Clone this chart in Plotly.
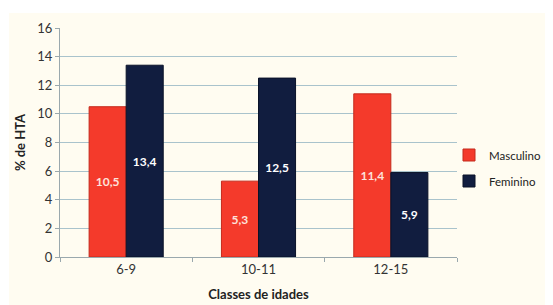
import plotly.graph_objects as go

categories = ["6-9", "10-11", "12-15"]
masculino = [10.5, 5.3, 11.4]
feminino = [13.4, 12.5, 5.9]
masc_labels = ["<b>10,5</b>", "<b>5,3</b>", "<b>11,4</b>"]
fem_labels = ["<b>13,4</b>", "<b>12,5</b>", "<b>5,9</b>"]
y_ticks = [0, 2, 4, 6, 8, 10, 12, 14, 16]

FONT = "Lato"

fig = go.Figure()
fig.add_trace(go.Bar(
    name="Masculino", x=categories, y=masculino, text=masc_labels,
    legendgroup="m",
    textposition="inside", insidetextanchor="middle",
    textfont=dict(color="#fde2dc", size=12, family=FONT),
    marker=dict(color="#f43a2b", line=dict(color="#c42a1c", width=1)),
))
fig.add_trace(go.Bar(
    name="Feminino", x=categories, y=feminino, text=fem_labels,
    legendgroup="f",
    textposition="inside", insidetextanchor="middle",
    textfont=dict(color="#ffffff", size=12, family=FONT),
    marker=dict(color="#111d3f", line=dict(color="#0a1228", width=1)),
))

OFF = 8  # page body margin
W, H = 553 - OFF, 305 - OFF
L, R, T, B = 60 - OFF, 96, 28 - OFF, 48
pw, ph = W - L - R, H - T - B

fig.update_layout(
    width=W, height=H,
    margin=dict(l=L, r=R, t=T, b=B, autoexpand=False),
    paper_bgcolor="#ffffff",
    plot_bgcolor="rgba(0,0,0,0)",
    barmode="group", bargap=0.44, bargroupgap=0,
    font=dict(family=FONT, color="#333333", size=13),
    uniformtext=dict(mode="show", minsize=11),
    legend=dict(xref="container", yref="container", x=441 / W, y=(H - 160) / H,
                yanchor="middle", xanchor="left",
                font=dict(size=11.5, color="#222222", family=FONT), bgcolor="rgba(0,0,0,0)",
                itemwidth=30, traceorder="grouped", tracegroupgap=7),
    shapes=[dict(type="rect", xref="paper", yref="paper", layer="below",
                 x0=(1 - L) / pw, x1=(W - L + 5) / pw,
                 y0=-(B + 5) / ph, y1=(ph + T - 5) / ph,
                 fillcolor="#fffcf1", line=dict(width=0))],
)
fig.update_yaxes(range=[0, 16], tickvals=y_ticks, showgrid=True, gridcolor="#a9c3cc",
                 gridwidth=1, showline=True, linecolor="#9aa8ad", ticks="outside",
                 ticklen=4, tickcolor="#9aa8ad", zeroline=False, automargin=False,
                 title=dict(text="<b>% de HTA</b>", font=dict(size=13, color="#222222"), standoff=8),
                 tickfont=dict(size=13, color="#333333"))
fig.update_xaxes(type="category", showline=True, linecolor="#9aa8ad", automargin=False,
                 ticks="outside", tickson="boundaries", ticklen=4, tickcolor="#9aa8ad",
                 title=dict(text="<b>Classes de idades</b>", font=dict(size=13, color="#222222"), standoff=14),
                 tickfont=dict(size=13, color="#333333"))

fig.write_html("out.html")
